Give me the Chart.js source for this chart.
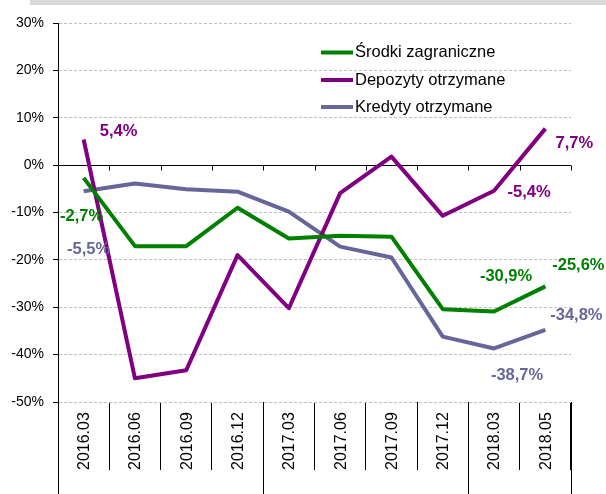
<!DOCTYPE html>
<html>
<head>
<meta charset="utf-8">
<script src="https://cdn.jsdelivr.net/npm/chart.js@4.4.0/dist/chart.umd.min.js"></script>
<style>
  html, body { margin: 0; padding: 0; background: #fff; }
  #wrap { position: relative; width: 606px; height: 494px; }
  #band { position: absolute; left: 30px; top: 0; width: 576px; height: 5px; background: #d9d9d9; }
  #chart { position: absolute; left: 0; top: 0; }
</style>
</head>
<body>
<div id="wrap">
  <div id="band"></div>
  <canvas id="chart" width="606" height="494"></canvas>
</div>
<script>
const labels = ["2016.03", "2016.06", "2016.09", "2016.12", "2017.03", "2017.06", "2017.09", "2017.12", "2018.03", "2018.05"];
const srodki = [-2.7, -17.1, -17.1, -9.0, -15.5, -14.9, -15.1, -30.4, -30.9, -25.6];
const depozyty = [5.4, -45.0, -43.3, -19.0, -30.2, -5.9, 1.8, -10.7, -5.4, 7.7];
const kredyty = [-5.5, -3.9, -5.1, -5.6, -9.8, -17.2, -19.5, -36.2, -38.7, -34.8];
const seriesNames = ["Środki zagraniczne", "Depozyty otrzymane", "Kredyty otrzymane"];
const labelledPoints = [0, 8, 9];
// category boundaries where a new year starts
const yearBreaks = [0, 4, 8, 10];

const fontFamily = "'Liberation Sans', Arial, sans-serif";
const colors = ["#008000", "#800080", "#666699"];

// where each value label sits relative to its point
const labelOffsets = [
  { 0: [-2, 39], 8: [12, -35], 9: [33, -21] },
  { 0: [35, -8], 8: [35, 2], 9: [29, 15] },
  { 0: [5, 58], 8: [23, 27], 9: [31, -15] }
];

const fmt = v => v.toFixed(1).replace(".", ",") + "%";

const decor = {
  id: "decor",
  beforeDatasetsDraw(chart) {
    const { ctx, chartArea: a, scales: { x, y } } = chart;
    const y0 = Math.round(y.getPixelForValue(0)) + 0.5;
    ctx.save();
    ctx.strokeStyle = "#000";
    ctx.lineWidth = 1;
    ctx.beginPath();
    ctx.moveTo(a.left, y0);
    ctx.lineTo(a.right, y0);
    for (let i = 0; i <= labels.length; i++) {
      const px = Math.round(x.getPixelForValue(i - 0.5)) + 0.5;
      ctx.moveTo(px, y0);
      ctx.lineTo(px, y0 + 5);
    }
    yearBreaks.forEach(i => {
      const px = Math.round(x.getPixelForValue(i - 0.5)) + 0.5;
      ctx.moveTo(px, a.bottom);
      ctx.lineTo(px, chart.height);
    });
    ctx.stroke();

    // category labels, rotated
    ctx.font = "16px " + fontFamily;
    ctx.fillStyle = "#000";
    ctx.textAlign = "left";
    ctx.textBaseline = "middle";
    labels.forEach((l, i) => {
      ctx.save();
      ctx.translate(x.getPixelForValue(i) + 1, 470);
      ctx.rotate(-Math.PI / 2);
      ctx.fillText(l, 0, 0);
      ctx.restore();
    });
    ctx.restore();
  },
  afterDatasetsDraw(chart) {
    const { ctx } = chart;
    ctx.save();
    ctx.font = "bold 16.5px " + fontFamily;
    ctx.textAlign = "center";
    ctx.textBaseline = "middle";
    chart.data.datasets.forEach((ds, d) => {
      const meta = chart.getDatasetMeta(d);
      ctx.fillStyle = ds.borderColor;
      labelledPoints.forEach(i => {
        const p = meta.data[i];
        const [dx, dy] = labelOffsets[d][i];
        ctx.fillText(fmt(ds.data[i]), p.x + dx, p.y + dy);
      });
    });

    // legend inside the plot
    ctx.font = "16.5px " + fontFamily;
    ctx.textAlign = "left";
    ctx.fillStyle = "#000";
    ctx.lineWidth = 4;
    const rows = [52.5, 80, 107];
    chart.data.datasets.forEach((ds, d) => {
      ctx.strokeStyle = ds.borderColor;
      ctx.beginPath();
      ctx.moveTo(321, rows[d]);
      ctx.lineTo(353, rows[d]);
      ctx.stroke();
      ctx.fillText(ds.label, 355, rows[d]);
    });
    ctx.restore();
  }
};

const series = [srodki, depozyty, kredyty];

new Chart(document.getElementById("chart"), {
  type: "line",
  data: {
    labels: labels,
    datasets: series.map((s, i) => ({
      label: seriesNames[i],
      data: s,
      borderColor: colors[i],
      backgroundColor: colors[i],
      borderWidth: 4,
      pointRadius: 0,
      tension: 0,
      fill: false,
      borderJoinStyle: "round"
    }))
  },
  options: {
    responsive: false,
    animation: false,
    layout: { padding: { top: 23, right: 35, left: 0, bottom: 0 } },
    plugins: {
      legend: { display: false },
      tooltip: { enabled: false }
    },
    scales: {
      x: {
        offset: true,
        afterFit: s => { s.height = 92; },
        border: { display: false },
        grid: {
          offset: true,
          drawOnChartArea: false,
          drawTicks: true,
          tickLength: 68,
          color: "#000",
          tickColor: "#000"
        },
        ticks: { display: false }
      },
      y: {
        min: -50,
        max: 30,
        afterFit: s => { s.width = 58; },
        border: { display: true, color: "#000", width: 1, dash: [3, 2] },
        grid: {
          color: c => (c.tick && c.tick.value === 0) ? "rgba(0,0,0,0)" : "#c0c0c0",
          tickColor: "#000",
          tickLength: 5,
          tickBorderDash: []
        },
        ticks: {
          stepSize: 10,
          padding: 9,
          color: "#000",
          font: { size: 14, family: fontFamily },
          callback: v => v + "%"
        }
      }
    }
  },
  plugins: [decor]
});
</script>
</body>
</html>
